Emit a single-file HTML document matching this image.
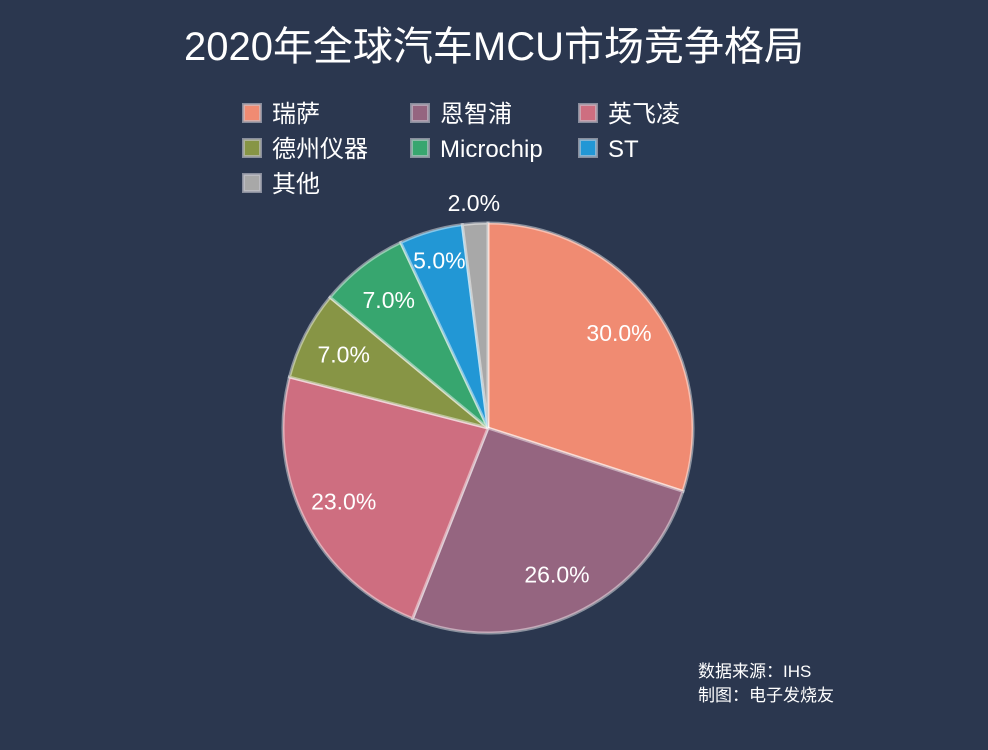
<!DOCTYPE html>
<html><head><meta charset="utf-8"><style>
body{margin:0;background:#2b374f;width:988px;height:745px;overflow:hidden}
svg text{font-family:"Liberation Sans","Noto Sans CJK SC",sans-serif;fill:#fff}
</style></head><body>
<svg id="chart" width="988" height="745">
<rect width="988" height="745" fill="#2b374f"/>
<text x="494" y="60" text-anchor="middle" font-size="40">2020年全球汽车MCU市场竞争格局</text>
<g id="legend"></g>
<g id="slices"></g>
<g id="labels"></g>
<text x="698" y="677" font-size="17">数据来源：IHS</text>
<text x="698" y="701" font-size="17">制图：电子发烧友</text>
</svg>
<script>
const categories=["瑞萨","恩智浦","英飞凌","德州仪器","Microchip","ST","其他"];
const values=[30,26,23,7,7,5,2];
const colors=["#f08b72","#956580","#ce6e80","#879545","#37a66f","#2297d5","#a8a8a8"];
const NS="http://www.w3.org/2000/svg";
const cx=488,cy=428,R=205;
const total=values.reduce((a,b)=>a+b,0);
function pt(frac,r){const a=frac*2*Math.PI;return [cx+r*Math.sin(a),cy-r*Math.cos(a)];}
const sg=document.getElementById('slices'),lg=document.getElementById('labels'),leg=document.getElementById('legend');
let cum=0;
values.forEach((v,i)=>{
  const f0=cum/total,f1=(cum+v)/total;cum+=v;
  const [x0,y0]=pt(f0,R),[x1,y1]=pt(f1,R);
  const p=document.createElementNS(NS,'path');
  p.setAttribute('d',`M${cx},${cy}L${x0},${y0}A${R},${R} 0 ${f1-f0>0.5?1:0} 1 ${x1},${y1}Z`);
  p.setAttribute('fill',colors[i]);p.setAttribute('stroke','rgba(255,255,255,0.45)');p.setAttribute('stroke-width','3');
  
  
  sg.appendChild(p);
  const pct=v/total*100;
  const r=pct<3?R*1.1:R*(pct<6?0.85:0.79);
  const [lx,ly]=pt((f0+f1)/2,r);
  const t=document.createElementNS(NS,'text');
  t.setAttribute('x',lx);t.setAttribute('y',ly+8);t.setAttribute('text-anchor','middle');t.setAttribute('font-size','23');
  t.textContent=pct.toFixed(1)+'%';
  
  
  lg.appendChild(t);
  const col=i%3,row=Math.floor(i/3);
  const lx0=242+col*168,ly0=103+row*35;
  const g=document.createElementNS(NS,'g');
  
  
  const s=document.createElementNS(NS,'rect');
  s.setAttribute('x',lx0+1.5);s.setAttribute('y',ly0+1.5);s.setAttribute('width',17);s.setAttribute('height',17);
  s.setAttribute('fill',colors[i]);s.setAttribute('stroke','rgba(200,200,210,0.6)');s.setAttribute('stroke-width','3');
  g.appendChild(s);
  const lt=document.createElementNS(NS,'text');
  lt.setAttribute('x',lx0+30);lt.setAttribute('y',ly0+19);lt.setAttribute('font-size','24');
  lt.textContent=categories[i];
  g.appendChild(lt);
  leg.appendChild(g);
});
</script>
</body></html>
